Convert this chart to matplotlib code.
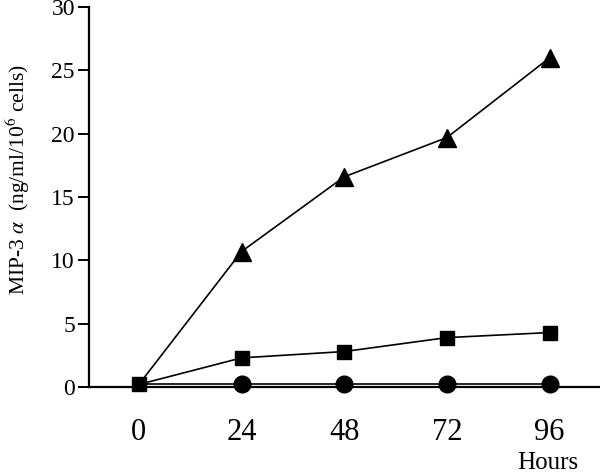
import matplotlib
matplotlib.use("Agg")
import matplotlib.pyplot as plt

hours = [0, 24, 48, 72, 96]
triangle_vals = [0.2, 10.7, 16.6, 19.7, 26.0]
square_vals = [0.2, 2.3, 2.8, 3.9, 4.3]
circle_vals = [0.2, 0.2, 0.2, 0.2, 0.2]
y_ticks = [0, 5, 10, 15, 20, 25, 30]
x_ticks = [0, 24, 48, 72, 96]

plt.rcParams['font.family'] = ['Liberation Serif', 'DejaVu Serif']
plt.rcParams['mathtext.fontset'] = 'stix'

fig = plt.figure(figsize=(6.0, 4.76), dpi=100)
ax = fig.add_axes([0.148, 0.187, 0.850, 0.798])

ax.plot(hours, circle_vals, color='black', lw=1.2, marker='o', ms=12, zorder=3,
        clip_on=False, markevery=[1, 2, 3, 4])
ax.plot(hours, square_vals, color='black', lw=1.2, marker='s', ms=10.5, zorder=4, clip_on=False)
ax.plot(hours[1:], triangle_vals[1:], color='black', lw=1.2, marker='^', ms=12.5, zorder=4, clip_on=False)
ax.plot(hours[:2], [square_vals[0], triangle_vals[1]], color='black', lw=1.2, zorder=2)

ax.set_xlim(-11.7, 107.5)
ax.set_ylim(0, 30)
ax.set_yticks(y_ticks)
ax.set_xticks(x_ticks)
ax.set_yticklabels([str(v) for v in y_ticks], fontsize=17)
ax.set_xticklabels([str(v) for v in x_ticks], fontsize=22)
ax.tick_params(axis='y', direction='out', length=8, width=1.4, pad=2)
ax.tick_params(axis='x', length=0, pad=22)

for s in ['top', 'right']:
    ax.spines[s].set_visible(False)
ax.spines['left'].set_linewidth(1.6)
ax.spines['bottom'].set_linewidth(1.6)

ax.set_ylabel(r"MIP-3 $\alpha$  (ng/ml/10$^6$ cells)", fontsize=15.5)
ax.yaxis.set_label_coords(-0.112, 0.545)

fig.text(548/600, 1 - 469/476, "Hours", fontsize=18, ha='center', va='baseline')

fig.savefig("out.png", dpi=100)
